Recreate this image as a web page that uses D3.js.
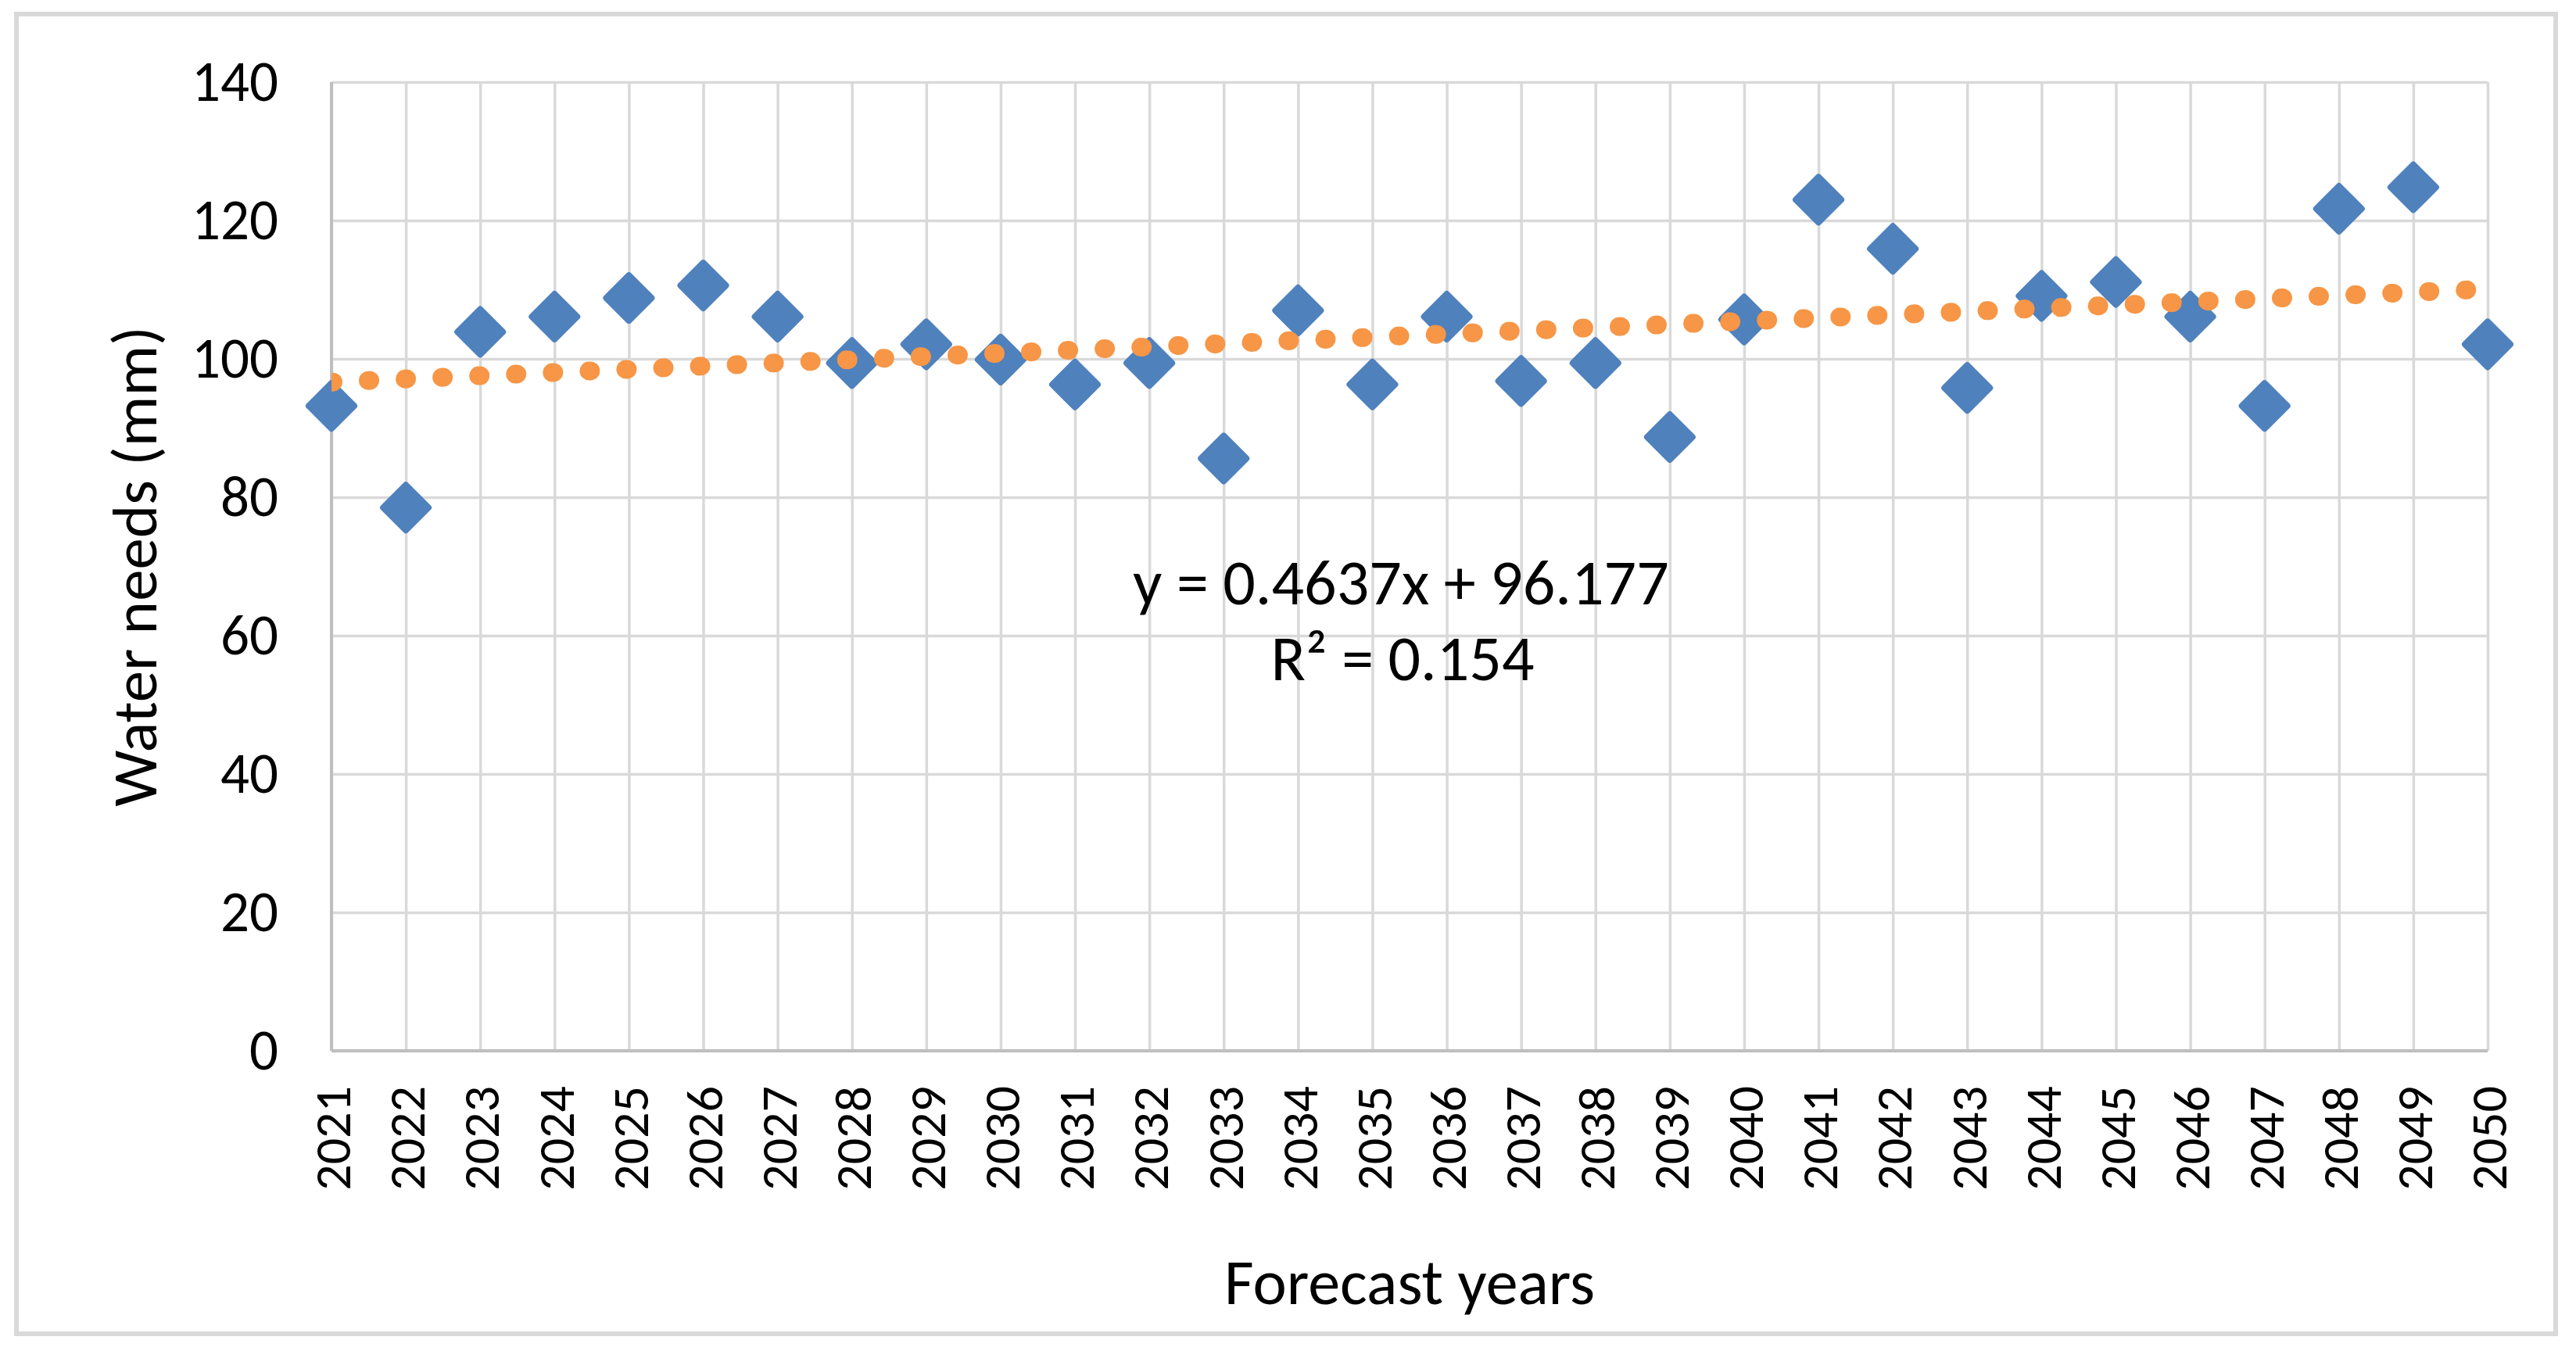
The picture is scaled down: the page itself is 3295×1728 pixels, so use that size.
<!DOCTYPE html>
<html><head><meta charset="utf-8">
<script src="https://cdn.jsdelivr.net/npm/d3@7"></script>
<style>body{margin:0;background:#fff} svg{display:block}</style>
</head><body>
<svg id="chart" width="3295" height="1728"></svg>
<script>
// ---- data ----
const years = ["2021","2022","2023","2024","2025","2026","2027","2028","2029","2030",
               "2031","2032","2033","2034","2035","2036","2037","2038","2039","2040",
               "2041","2042","2043","2044","2045","2046","2047","2048","2049","2050"];
const waterNeeds = [93.2, 78.5, 103.9, 106.1, 108.8, 110.6, 106.1, 99.4, 102.1, 99.9,
                    96.3, 99.4, 85.6, 107.0, 96.3, 106.1, 96.8, 99.4, 88.7, 105.7,
                    123.0, 115.9, 95.8, 109.1, 111.1, 106.1, 93.2, 121.7, 124.8, 102.1];
const yTicks = [0, 20, 40, 60, 80, 100, 120, 140];
const trendSlope = 0.4637;
const trendIntercept = 96.177;
const equationLabel = "y = 0.4637x + 96.177";
const r2Label = "R² = 0.154";
const xTitle = "Forecast years";
const yTitle = "Water needs (mm)";

// ---- layout ----
const FONT = "Carlito, Calibri, Lato, sans-serif";
const plot = {left: 424, right: 3182, top: 105, bottom: 1344};
const svg = d3.select("#chart");

svg.append("rect").attr("x", 0).attr("y", 0).attr("width", 3295).attr("height", 1728).attr("fill", "#fff");
svg.append("rect").attr("x", 21).attr("y", 18).attr("width", 3248).attr("height", 1688)
  .attr("fill", "none").attr("stroke", "#d9d9d9").attr("stroke-width", 6);

const x = d3.scalePoint().domain(years).range([plot.left, plot.right]);
const y = d3.scaleLinear().domain([0, 140]).range([plot.bottom, plot.top]);

// horizontal gridlines + y tick labels
const gy = svg.append("g").attr("transform", `translate(${plot.left},0)`)
  .call(d3.axisLeft(y).tickValues(yTicks).tickSize(-(plot.right - plot.left)).tickPadding(68));
gy.select(".domain").remove();
gy.selectAll(".tick line").attr("stroke", "#d9d9d9").attr("stroke-width", 3.5);
gy.selectAll(".tick text").attr("font-family", FONT).attr("font-size", 73).attr("fill", "#000");

// vertical gridlines + x tick labels
const gx = svg.append("g").attr("transform", `translate(0,${plot.bottom})`)
  .call(d3.axisBottom(x).tickSize(-(plot.bottom - plot.top)));
gx.select(".domain").remove();
gx.selectAll(".tick line").attr("stroke", "#d9d9d9").attr("stroke-width", 3.5);
gx.selectAll(".tick text")
  .attr("transform", "rotate(-90)").attr("x", -45).attr("y", 0).attr("dy", "0.36em")
  .attr("text-anchor", "end").attr("font-family", FONT).attr("font-size", 66).attr("fill", "#000");

// axis lines
svg.append("line").attr("x1", plot.left).attr("x2", plot.left).attr("y1", plot.top).attr("y2", plot.bottom)
  .attr("stroke", "#bfbfbf").attr("stroke-width", 4);
svg.append("line").attr("x1", plot.left).attr("x2", plot.right).attr("y1", plot.bottom).attr("y2", plot.bottom)
  .attr("stroke", "#bfbfbf").attr("stroke-width", 4);

// markers
svg.append("g").selectAll("path").data(waterNeeds).join("path")
  .attr("d", d3.symbol(d3.symbolSquare, 1682)())
  .attr("transform", (d, i) => `translate(${x(years[i])},${y(d)}) rotate(45)`)
  .attr("fill", "#4f81bd").attr("stroke", "#4f81bd").attr("stroke-width", 8).attr("stroke-linejoin", "round");

// trendline (dotted), clipped to plot area
svg.append("clipPath").attr("id", "plotclip").append("rect")
  .attr("x", plot.left).attr("y", plot.top).attr("width", plot.right - plot.left).attr("height", plot.bottom - plot.top);
const trendPts = [0, years.length - 1].map(i => [x(years[i]), y(trendIntercept + trendSlope * (i + 1))]);
svg.append("path").attr("clip-path", "url(#plotclip)")
  .attr("d", d3.line()(trendPts))
  .attr("fill", "none").attr("stroke", "#f79646").attr("stroke-width", 24)
  .attr("stroke-linecap", "round").attr("stroke-dasharray", "2 45.1");

// equation labels
svg.append("text").attr("x", 1792).attr("y", 773).attr("text-anchor", "middle")
  .attr("font-family", FONT).attr("font-size", 82).attr("fill", "#000").text(equationLabel);
svg.append("text").attr("x", 1794).attr("y", 870).attr("text-anchor", "middle")
  .attr("font-family", FONT).attr("font-size", 82).attr("fill", "#000").text(r2Label);

// axis titles
svg.append("text").attr("x", (plot.left + plot.right) / 2).attr("y", 1668).attr("text-anchor", "middle")
  .attr("font-family", FONT).attr("font-size", 82).attr("fill", "#000").text(xTitle);
svg.append("text").attr("transform", `translate(200,${(plot.top + plot.bottom) / 2}) rotate(-90)`)
  .attr("text-anchor", "middle")
  .attr("font-family", FONT).attr("font-size", 81).attr("fill", "#000").text(yTitle);
</script>
</body></html>
